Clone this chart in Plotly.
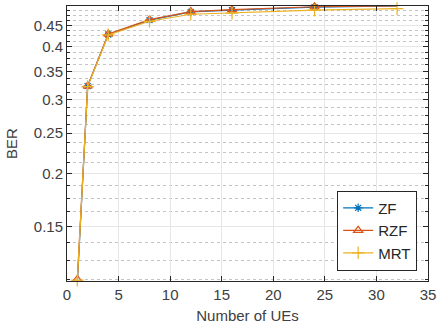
import math
import plotly.graph_objects as go

num_ues = [1, 2, 4, 8, 12, 16, 24, 32]
ber_zf = [0.1100, 0.323, 0.428, 0.463, 0.484, 0.489, 0.497, 0.500]
ber_rzf = [0.1125, 0.323, 0.429, 0.464, 0.485, 0.490, 0.498, 0.500]
ber_mrt = [0.1120, 0.322, 0.427, 0.460, 0.478, 0.481, 0.489, 0.493]

x_ticks = [0, 5, 10, 15, 20, 25, 30, 35]
y_ticks = [0.15, 0.2, 0.25, 0.3, 0.35, 0.4, 0.45]
y_ticktext = ["0.15", "0.2", "0.25", "0.3", "0.35", "0.4", "0.45"]

FONT = "Liberation Sans, Arial, sans-serif"
AX = "#262626"
TXT = "#404040"

fig = go.Figure()
series = [
    ("ZF", ber_zf, "#0072BD", "asterisk-open", 7),
    ("RZF", ber_rzf, "#D95319", "triangle-up-open", 8),
    ("MRT", ber_mrt, "#EDB120", "cross-thin-open", 9),
]
for name, vals, col, sym, ms in series:
    fig.add_trace(go.Scatter(
        x=num_ues, y=vals, name=name, mode="lines+markers",
        line=dict(color=col, width=1.2),
        marker=dict(symbol=sym, size=ms, color=col, line=dict(color=col, width=1.2)),
        cliponaxis=False,
    ))

fig.update_layout(
    width=441, height=333,
    margin=dict(l=67, r=11, t=5, b=52),
    paper_bgcolor="white", plot_bgcolor="white",
    font=dict(family=FONT, size=15, color=TXT),
    showlegend=True,
    legend=dict(
        x=0.97, y=0.038, xanchor="right", yanchor="bottom",
        bgcolor="white", bordercolor=AX, borderwidth=1,
        font=dict(size=15, color=AX),
        itemwidth=30, tracegroupgap=0,
    ),
)
fig.update_xaxes(
    range=[0, 35], tickvals=x_ticks,
    showline=True, linecolor=AX, linewidth=1, mirror="allticks",
    ticks="inside", ticklen=5, tickcolor=AX,
    showgrid=True, gridcolor="#e6e6e6", gridwidth=1, zeroline=False,
    tickfont=dict(size=15, color=TXT),
    title=dict(text="Number of UEs", font=dict(size=15, color=TXT), standoff=8),
)
fig.update_yaxes(
    type="log", range=[math.log10(0.1115), math.log10(0.5)],
    tickvals=y_ticks, ticktext=y_ticktext,
    showline=True, linecolor=AX, linewidth=1, mirror="allticks",
    ticks="inside", ticklen=5, tickcolor=AX,
    showgrid=True, gridcolor="#e6e6e6", gridwidth=1, zeroline=False,
    tickfont=dict(size=15, color=TXT),
    minor=dict(dtick="L0.0125", tick0=0, ticks="inside", ticklen=3, tickcolor=AX,
               showgrid=True, gridcolor="#c4c4c4", griddash="dot", gridwidth=1),
    title=dict(text="BER", font=dict(size=15, color=TXT), standoff=12),
)

fig.write_html("out.html")
